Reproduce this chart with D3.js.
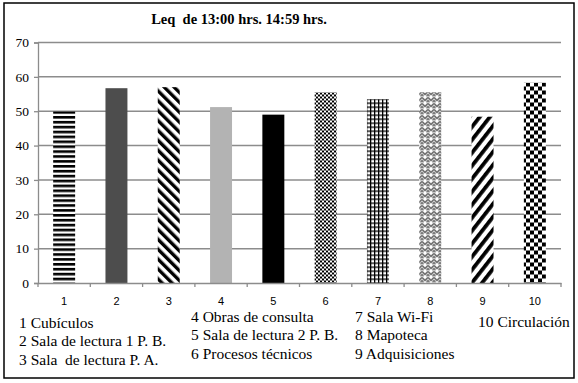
<!DOCTYPE html>
<html>
<head>
<meta charset="utf-8">
<script src="https://cdn.jsdelivr.net/npm/d3@7"></script>
<style>
  body { margin: 0; background: #fff; }
  svg text { fill: #000; }
  .serif { font-family: "Liberation Serif", "DejaVu Serif", serif; white-space: pre; }
</style>
</head>
<body>
<svg id="chart"></svg>
<script>
const categories = ["1", "2", "3", "4", "5", "6", "7", "8", "9", "10"];
const values = [49.9, 56.7, 57.0, 51.2, 49.0, 55.5, 53.5, 55.5, 48.4, 58.3];
const fills = ["hstripe", "#4d4d4d", "bdiag", "#b3b3b3", "#000000", "smallcheck", "grid", "zigzag", "fdiag", "bigcheck"];
const yTicks = [0, 10, 20, 30, 40, 50, 60, 70];
const legendCols = [
  ["1 Cubículos", "2 Sala de lectura 1 P. B.", "3 Sala  de lectura P. A."],
  ["4 Obras de consulta", "5 Sala de lectura 2 P. B.", "6 Procesos técnicos"],
  ["7 Sala Wi-Fi", "8 Mapoteca", "9 Adquisiciones"],
  ["10 Circulación"]
];
const title = "Leq  de 13:00 hrs. 14:59 hrs.";

const svg_width = 578, svg_height = 383;
const margin = { top: 42.5, right: 17, bottom: 100, left: 38 },
    width = svg_width - margin.left - margin.right,
    height = svg_height - margin.top - margin.bottom;

const root = d3.select("#chart")
    .attr("width", svg_width)
    .attr("height", svg_height);

// patterns
const defs = root.append("defs");
function pattern(id, w, h) {
    return defs.append("pattern").attr("id", id)
        .attr("patternUnits", "userSpaceOnUse")
        .attr("width", w).attr("height", h);
}
let p = pattern("hstripe", 5, 4.9);
p.append("rect").attr("width", 5).attr("height", 4.9).attr("fill", "#fff");
p.append("rect").attr("width", 5).attr("height", 2.6).attr("fill", "#000");

p = pattern("bdiag", 7, 7).attr("patternTransform", "rotate(-45)");
p.append("rect").attr("width", 7).attr("height", 7).attr("fill", "#fff");
p.append("rect").attr("width", 3.4).attr("height", 7).attr("fill", "#000");

p = pattern("fdiag", 8, 8).attr("patternTransform", "rotate(38)");
p.append("rect").attr("width", 8).attr("height", 8).attr("fill", "#fff");
p.append("rect").attr("width", 3.8).attr("height", 8).attr("fill", "#000");

p = pattern("smallcheck", 4, 4);
p.append("rect").attr("width", 4).attr("height", 4).attr("fill", "#fff");
p.append("rect").attr("width", 2).attr("height", 2).attr("fill", "#000");
p.append("rect").attr("x", 2).attr("y", 2).attr("width", 2).attr("height", 2).attr("fill", "#000");

p = pattern("bigcheck", 8, 8);
p.append("rect").attr("width", 8).attr("height", 8).attr("fill", "#fff");
p.append("rect").attr("width", 4).attr("height", 4).attr("fill", "#000");
p.append("rect").attr("x", 4).attr("y", 4).attr("width", 4).attr("height", 4).attr("fill", "#000");

p = pattern("grid", 4, 4);
p.append("rect").attr("width", 4).attr("height", 4).attr("fill", "#fff");
p.append("rect").attr("width", 4).attr("height", 1.3).attr("fill", "#000");
p.append("rect").attr("width", 1.3).attr("height", 4).attr("fill", "#000");

p = pattern("zigzag", 6, 6);
p.append("rect").attr("width", 6).attr("height", 6).attr("fill", "#fff");
p.append("path").attr("d", "M0,1 L3,4 L6,1 M0,4 L1.5,5.5 M4.5,5.5 L6,4")
    .attr("fill", "none").attr("stroke", "#333").attr("stroke-width", 1.1);

// frame
root.append("rect")
    .attr("x", 4).attr("y", 3)
    .attr("width", 570).attr("height", 375)
    .attr("fill", "none").attr("stroke", "#000").attr("stroke-width", 1.5);

root.append("text")
    .attr("class", "serif")
    .attr("x", 239).attr("y", 24)
    .attr("text-anchor", "middle")
    .attr("font-weight", "bold")
    .attr("font-size", 14.5)
    .text(title);

const svg = root.append("g")
    .attr("transform", `translate(${margin.left},${margin.top})`);

const x = d3.scaleBand().domain(categories).range([0, width]).paddingInner(0.58).paddingOuter(0.29);
const xb = d3.scaleBand().domain(categories).range([0, width]);
const y = d3.scaleLinear().domain([0, 70]).range([height, 0]);

// gridlines
svg.append("g")
    .selectAll("line")
    .data(yTicks.filter(d => d > 0))
    .join("line")
    .attr("x1", 0).attr("x2", width)
    .attr("y1", d => y(d)).attr("y2", d => y(d))
    .attr("stroke", "#8c8c8c").attr("stroke-width", 1.5);

// y axis
const yAxis = svg.append("g")
    .call(d3.axisLeft(y).tickValues(yTicks).tickSize(4).tickPadding(5))
    .attr("font-family", null);
yAxis.selectAll("path, line").attr("stroke", "#8c8c8c").attr("stroke-width", 1.3);
yAxis.selectAll("text")
    .attr("class", "serif")
    .attr("font-size", 13.5);

// bars
svg.append("g")
    .selectAll("rect")
    .data(values)
    .join("rect")
    .attr("x", (d, i) => x(categories[i]))
    .attr("y", d => y(d))
    .attr("width", x.bandwidth())
    .attr("height", d => height - y(d))
    .attr("fill", (d, i) => fills[i].startsWith("#") ? fills[i] : `url(#${fills[i]})`);

// x axis
const xAxis = svg.append("g")
    .attr("transform", `translate(0,${height})`)
    .call(d3.axisBottom(xb).tickSize(0).tickPadding(14));
xAxis.select("path").attr("stroke", "#8c8c8c").attr("stroke-width", 1.3);
xAxis.selectAll("text")
    .style("font-family", "'Liberation Sans', sans-serif")
    .style("font-size", "11px");
svg.append("g")
    .selectAll("line")
    .data(categories.concat(["end"]))
    .join("line")
    .attr("x1", (d, i) => i * xb.step()).attr("x2", (d, i) => i * xb.step())
    .attr("y1", height).attr("y2", height + 4)
    .attr("stroke", "#8c8c8c").attr("stroke-width", 1.3);

// legend
const colX = [19, 191, 355, 478];
const colY = [328, 322, 322, 327];
legendCols.forEach((col, ci) => {
    root.append("g")
        .selectAll("text")
        .data(col)
        .join("text")
        .attr("class", "serif")
        .attr("x", colX[ci])
        .attr("y", (d, i) => colY[ci] + i * 18.3)
        .attr("font-size", 15.5)
        .text(d => d);
});
</script>
</body>
</html>
